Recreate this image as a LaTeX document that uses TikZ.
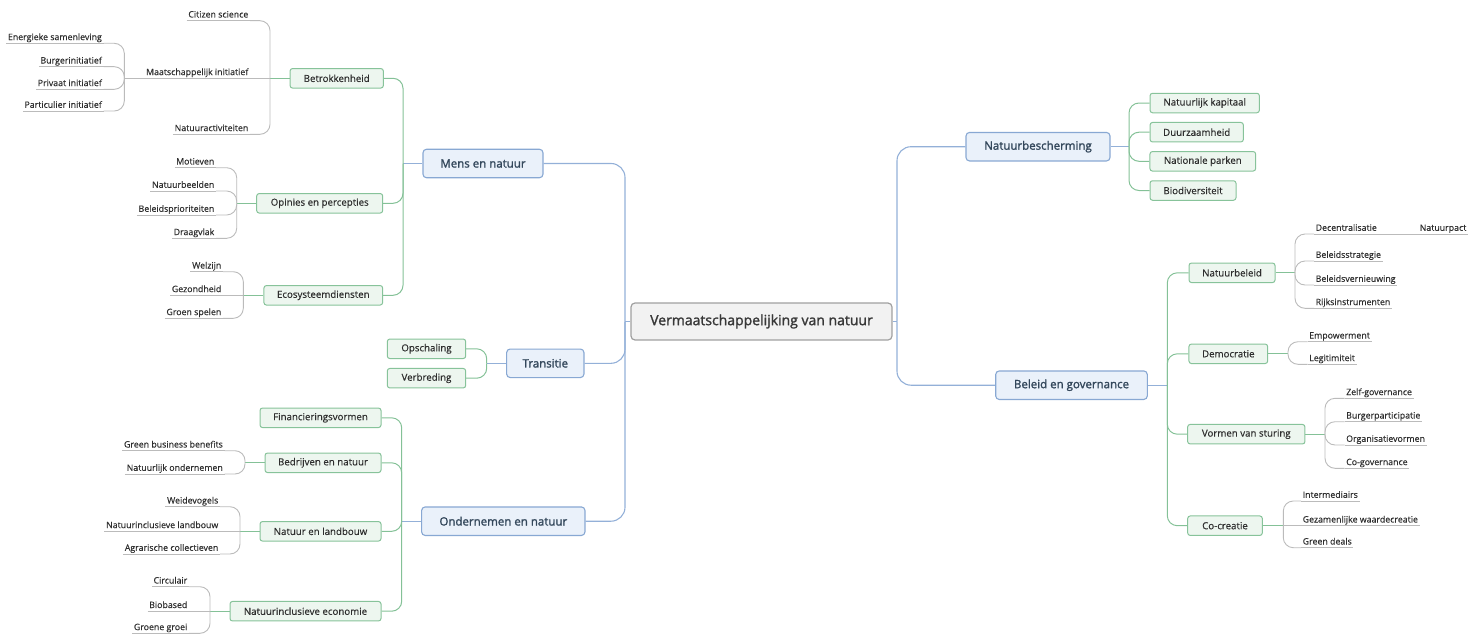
\documentclass[tikz,border=0pt]{standalone}
\usepackage{fontspec}
\setmainfont{Open Sans}
\newfontfamily\semib[FakeBold=1.6]{Open Sans}
\newfontfamily\lightb[FakeBold=0.4]{Open Sans}
\usetikzlibrary{backgrounds}
\definecolor{blueline}{HTML}{93B0D8}
\definecolor{bluefill}{HTML}{EAF1FA}
\definecolor{blueborder}{HTML}{88A8D3}
\definecolor{bluetext}{HTML}{33475B}
\definecolor{greenfill}{HTML}{EDF6EF}
\definecolor{greenborder}{HTML}{87C39A}
\definecolor{greenline}{HTML}{84C197}
\definecolor{grayline}{HTML}{BBBBBB}
\definecolor{centfill}{HTML}{F2F2F2}
\definecolor{centborder}{HTML}{A0A0A0}
\definecolor{txt}{HTML}{2E2E2E}
\tikzset{
 central/.style={draw=centborder, fill=centfill, line width=1.2pt, rounded corners=4pt, inner sep=0pt, text=txt!95, font=\semib\fontsize{14}{16}\selectfont, minimum width=261pt, minimum height=37pt},
 topic/.style={draw=blueborder, fill=bluefill, line width=1.1pt, rounded corners=3.5pt, inner sep=0pt, text=bluetext, font=\semib\fontsize{11.5}{13}\selectfont, minimum height=28.5pt},
 sub/.style={draw=greenborder, fill=greenfill, line width=1pt, rounded corners=2.5pt, inner sep=0pt, text=txt, font=\lightb\fontsize{9.7}{11}\selectfont, minimum height=19.5pt},
 leafL/.style={anchor=south east, inner xsep=1.5pt, inner ysep=1.2pt, text height=6.8pt, text depth=1.8pt, text=txt, font=\lightb\fontsize{8.8}{10}\selectfont},
 leafR/.style={leafL, anchor=south west},
 bconn/.style={draw=blueline, line width=1.1pt, rounded corners=14pt},
 gconn/.style={draw=greenline, line width=1pt, rounded corners=10pt},
 lconn/.style={draw=grayline, line width=0.9pt, rounded corners=10pt},
 uline/.style={draw=grayline, line width=0.9pt},
}
\begin{document}
\begin{tikzpicture}[x=1pt,y=-1pt]
\useasboundingbox (0,0) rectangle (1480,634);
% central and main topics
\node[central] (c) at (761.5,321.5) {Vermaatschappelijking van natuur};
\node[topic, minimum width=120pt] (mens) at (483,163.5) {Mens en natuur};
\node[topic, minimum width=77.3pt] (trans) at (545.3,363.3) {Transitie};
\node[topic, minimum width=163.3pt] (ond) at (503.3,521.2) {Ondernemen en natuur};
\node[topic, minimum width=144pt] (natb) at (1038,146.7) {Natuurbescherming};
\node[topic, minimum width=151.6pt] (bel) at (1071.5,385.2) {Beleid en governance};
% subtopics
\node[sub, minimum width=93.3pt] (betr) at (336.7,78.3) {Betrokkenheid};
\node[sub, minimum width=126pt] (opin) at (319.7,203.3) {Opinies en percepties};
\node[sub, minimum width=118.7pt] (eco) at (323.3,295.3) {Ecosysteemdiensten};
\node[sub, minimum width=78.4pt] (opsch) at (426.5,348.8) {Opschaling};
\node[sub, minimum width=78.4pt] (verbr) at (426.5,378.2) {Verbreding};
\node[sub, minimum width=121pt] (fin) at (320.5,417.8) {Financieringsvormen};
\node[sub, minimum width=116pt] (bedr) at (323,462.8) {Bedrijven en natuur};
\node[sub, minimum width=121pt] (nlb) at (320.5,531.3) {Natuur en landbouw};
\node[sub, minimum width=151pt] (nie) at (305.5,611.2) {Natuurinclusieve economie};
\node[sub, minimum width=109.3pt] (nk) at (1204.7,103) {Natuurlijk kapitaal};
\node[sub, minimum width=93.3pt] (duur) at (1196.7,132.2) {Duurzaamheid};
\node[sub, minimum width=105.7pt] (np) at (1202.8,161.3) {Nationale parken};
\node[sub, minimum width=86pt] (bio) at (1193,190.5) {Biodiversiteit};
\node[sub, minimum width=86pt] (nbel) at (1232,272.8) {Natuurbeleid};
\node[sub, minimum width=78.7pt] (dem) at (1228.3,353.8) {Democratie};
\node[sub, minimum width=117.3pt] (vvs) at (1246.3,434.2) {Vormen van sturing};
\node[sub, minimum width=74.6pt] (cocr) at (1225,525.7) {Co-creatie};
% leaves left
\node[leafL] (cit) at (250,20.7) {Citizen science};
\node[leafL] (maat) at (250,78.3) {Maatschappelijk initiatief};
\node[leafL] (nact) at (250,134.3) {Natuuractiviteiten};
\node[leafL] (ener) at (103.5,43.3) {Energieke samenleving};
\node[leafL] (burg) at (103.5,66.7) {Burgerinitiatief};
\node[leafL] (priv) at (103.5,89.3) {Privaat initiatief};
\node[leafL] (part) at (103.5,111) {Particulier initiatief};
\node[leafL] (mot) at (216,167.7) {Motieven};
\node[leafL] (nbeeld) at (216,191) {Natuurbeelden};
\node[leafL] (bprio) at (216,215) {Beleidsprioriteiten};
\node[leafL] (draag) at (216,238.3) {Draagvlak};
\node[leafL] (welz) at (223,271.7) {Welzijn};
\node[leafL] (gez) at (223,295.3) {Gezondheid};
\node[leafL] (gsp) at (223,318.3) {Groen spelen};
\node[leafL] (gbb) at (224.5,450.7) {Green business benefits};
\node[leafL] (nond) at (224.5,474) {Natuurlijk ondernemen};
\node[leafL] (weid) at (220,506.7) {Weidevogels};
\node[leafL] (nil) at (220,531.3) {Natuurinclusieve landbouw};
\node[leafL] (agr) at (220,554) {Agrarische collectieven};
\node[leafL] (circ) at (189,586.7) {Circulair};
\node[leafL] (bioba) at (189,611.2) {Biobased};
\node[leafL] (ggr) at (189,633.3) {Groene groei};
% leaves right
\node[leafR] (dec) at (1314,234) {Decentralisatie};
\node[leafR] (npact) at (1418,234) {Natuurpact};
\node[leafR] (bstr) at (1314,261) {Beleidsstrategie};
\node[leafR] (bvern) at (1314,285) {Beleidsvernieuwing};
\node[leafR] (rijk) at (1314,308.3) {Rijksinstrumenten};
\node[leafR] (emp) at (1307.5,341.7) {Empowerment};
\node[leafR] (legit) at (1307.5,364.3) {Legitimiteit};
\node[leafR] (zelf) at (1344.5,398.3) {Zelf-governance};
\node[leafR] (bpart) at (1344.5,421.7) {Burgerparticipatie};
\node[leafR] (orgv) at (1344.5,445) {Organisatievormen};
\node[leafR] (cogov) at (1344.5,468.3) {Co-governance};
\node[leafR] (inter) at (1301,501) {Intermediairs};
\node[leafR] (gezw) at (1301,525.7) {Gezamenlijke waardecreatie};
\node[leafR] (gdeal) at (1301,547.7) {Green deals};
% junctions
\coordinate (jL) at (625,321.5);
\coordinate (jR) at (897,321.5);
\coordinate (jmens) at (403,163.5);
\coordinate (jtrans) at (486.7,363.3);
\coordinate (jond) at (401.7,521.2);
\coordinate (jnatb) at (1129,146.7);
\coordinate (jbel) at (1167.3,385.2);
\coordinate (jbetr) at (270,78.3);
\coordinate (jmaat) at (124.3,78.3);
\coordinate (jopin) at (236.7,203.3);
\coordinate (jeco) at (243.3,295.3);
\coordinate (jbedr) at (245,462.8);
\coordinate (jnlb) at (240,531.3);
\coordinate (jnie) at (210,611.2);
\coordinate (jnbel) at (1295,272.8);
\coordinate (jdem) at (1288,353.8);
\coordinate (jvvs) at (1325,434.2);
\coordinate (jcocr) at (1283.3,525.7);
\begin{scope}[on background layer]
% trunk
\draw[bconn] (c.west) -- (jL);
\draw[bconn] (jL) |- (mens.east);
\draw[bconn] (jL) |- (trans.east);
\draw[bconn] (jL) |- (ond.east);
\draw[bconn] (c.east) -- (jR);
\draw[bconn] (jR) |- (natb.west);
\draw[bconn] (jR) |- (bel.west);
% stubs from main topics
\draw[bconn] (mens.west) -- (jmens);
\draw[bconn] (trans.west) -- (jtrans);
\draw[bconn] (ond.west) -- (jond);
\draw[bconn] (natb.east) -- (jnatb);
\draw[bconn] (bel.east) -- (jbel);
% green brackets
\foreach \n in {betr,opin,eco} \draw[gconn] (jmens) |- (\n.east);
\foreach \n in {opsch,verbr} \draw[gconn] (jtrans) |- (\n.east);
\foreach \n in {fin,bedr,nlb,nie} \draw[gconn] (jond) |- (\n.east);
\foreach \n in {nk,duur,np,bio} \draw[gconn] (jnatb) |- (\n.west);
\foreach \n in {nbel,dem,vvs,cocr} \draw[gconn] (jbel) |- (\n.west);
% stubs from subtopics
\draw[gconn] (betr.west) -- (jbetr);
\draw[gconn] (opin.west) -- (jopin);
\draw[gconn] (eco.west) -- (jeco);
\draw[gconn] (bedr.west) -- (jbedr);
\draw[gconn] (nlb.west) -- (jnlb);
\draw[gconn] (nie.west) -- (jnie);
\draw[gconn] (nbel.east) -- (jnbel);
\draw[gconn] (dem.east) -- (jdem);
\draw[gconn] (vvs.east) -- (jvvs);
\draw[gconn] (cocr.east) -- (jcocr);
% gray brackets
\draw[lconn] (jbetr) |- (cit.south east);
\draw[lconn] (jbetr) -- (maat.south east);
\draw[lconn] (jbetr) |- (nact.south east);
\draw[lconn] (maat.south west) -- (jmaat);
\foreach \n in {ener,burg,priv,part} \draw[lconn] (jmaat) |- (\n.south east);
\foreach \n in {mot,nbeeld,bprio,draag} \draw[lconn] (jopin) |- (\n.south east);
\draw[lconn] (jeco) |- (welz.south east);
\draw[lconn] (jeco) -- (gez.south east);
\draw[lconn] (jeco) |- (gsp.south east);
\foreach \n in {gbb,nond} \draw[lconn] (jbedr) |- (\n.south east);
\draw[lconn] (jnlb) |- (weid.south east);
\draw[lconn] (jnlb) -- (nil.south east);
\draw[lconn] (jnlb) |- (agr.south east);
\draw[lconn] (jnie) |- (circ.south east);
\draw[lconn] (jnie) -- (bioba.south east);
\draw[lconn] (jnie) |- (ggr.south east);
\foreach \n in {dec,bstr,bvern,rijk} \draw[lconn] (jnbel) |- (\n.south west);
\draw[lconn] (dec.south east) -- (npact.south west);
\foreach \n in {emp,legit} \draw[lconn] (jdem) |- (\n.south west);
\foreach \n in {zelf,bpart,orgv,cogov} \draw[lconn] (jvvs) |- (\n.south west);
\draw[lconn] (jcocr) |- (inter.south west);
\draw[lconn] (jcocr) -- (gezw.south west);
\draw[lconn] (jcocr) |- (gdeal.south west);
% underlines
\foreach \n in {cit,maat,nact,ener,burg,priv,part,mot,nbeeld,bprio,draag,welz,gez,gsp,gbb,nond,weid,nil,agr,circ,bioba,ggr,dec,npact,bstr,bvern,rijk,emp,legit,zelf,bpart,orgv,cogov,inter,gezw,gdeal}
  \draw[uline] (\n.south west) -- (\n.south east);
\end{scope}
\end{tikzpicture}
\end{document}
